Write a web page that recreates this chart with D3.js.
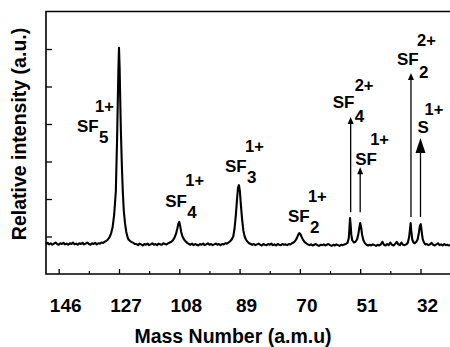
<!DOCTYPE html>
<html>
<head>
<meta charset="utf-8">
<script src="https://cdn.jsdelivr.net/npm/d3@7"></script>
<style>
  html, body { margin: 0; padding: 0; background: #fff; }
  svg { display: block; }
  text { font-family: "Liberation Sans", Arial, Helvetica, sans-serif; font-weight: bold; fill: #000; }
</style>
</head>
<body>
<div id="chart"></div>
<script>
// ---------- DATA ----------
const xTickLabels = [146, 127, 108, 89, 70, 51, 32];
const xMinorTicks = [136.5, 117.5, 98.5, 79.5, 60.5, 41.5];
const yTickValues = [1, 2, 3, 4, 5, 6];

// spectrum: [mass (a.m.u), relative intensity]
const spectrum = [
  [150,.80],[149.5,.83],[149,.79],[148.5,.82],[148,.78],[147.5,.81],[147,.84],[146.5,.80],[146,.78],[145.5,.82],
  [145,.80],[144.5,.83],[144,.79],[143.5,.81],[143,.78],[142.5,.82],[142,.80],[141.5,.84],[141,.79],[140.5,.81],
  [140,.78],[139.5,.82],[139,.80],[138.5,.83],[138,.79],[137.5,.81],[137,.84],[136.5,.80],[136,.78],[135.5,.82],
  [135,.80],[134.5,.83],[134,.79],[133.5,.82],[133,.81],[132.5,.84],[132,.83],[131.5,.86],[131,.88],[130.5,.92],
  [130,.98],[129.5,1.08],[129,1.25],[128.5,1.6],[128,2.2],[127.8,2.9],[127.6,3.6],[127.4,4.5],[127.2,5.4],[127,6.03],
  [126.8,5.5],[126.6,4.6],[126.4,3.8],[126.1,2.9],[125.8,2.2],[125.5,1.7],[125.1,1.35],[124.7,1.12],[124.3,.98],[124,.92],
  [123.5,.88],[123,.85],[122.5,.83],[122,.80],[121.5,.80],[121,.77],[120.5,.81],[120,.79],[119.5,.76],[119,.80],
  [118.5,.78],[118,.81],[117.5,.77],[117,.79],[116.5,.82],[116,.78],[115.5,.80],[115,.77],[114.5,.81],[114,.79],
  [113.5,.78],[113,.82],[112.5,.80],[112,.79],[111.5,.82],[111,.84],[110.5,.86],[110,.90],[109.5,.97],[109,1.08],
  [108.6,1.22],[108.3,1.34],[108,1.39],[107.7,1.27],[107.4,1.12],[107,1.0],[106.5,.92],[106,.87],[105.5,.83],[105,.80],
  [104.5,.78],[104,.81],[103.5,.77],[103,.80],[102.5,.78],[102,.76],[101.5,.80],[101,.78],[100.5,.81],[100,.77],
  [99.5,.79],[99,.82],[98.5,.78],[98,.80],[97.5,.77],[97,.79],[96.5,.81],[96,.78],[95.5,.80],[95,.77],
  [94.5,.80],[94,.79],[93.5,.82],[93,.81],[92.5,.84],[92,.87],[91.5,.92],[91,1.0],[90.6,1.2],[90.2,1.55],
  [89.8,2.0],[89.5,2.3],[89.2,2.37],[88.9,2.2],[88.6,1.85],[88.2,1.45],[87.8,1.15],[87.4,1.0],[87,.92],[86.5,.86],
  [86,.82],[85.5,.80],[85,.78],[84.5,.80],[84,.77],[83.5,.79],[83,.81],[82.5,.78],[82,.76],[81.5,.80],
  [81,.78],[80.5,.77],[80,.80],[79.5,.78],[79,.81],[78.5,.77],[78,.79],[77.5,.76],[77,.80],[76.5,.78],
  [76,.77],[75.5,.80],[75,.78],[74.5,.79],[74,.77],[73.5,.80],[73,.79],[72.5,.82],[72,.84],[71.5,.88],
  [71,.95],[70.6,1.03],[70.2,1.09],[69.8,1.06],[69.4,.98],[69,.91],[68.5,.85],[68,.82],[67.5,.79],[67,.77],
  [66.5,.79],[66,.76],[65.5,.78],[65,.80],[64.5,.77],[64,.75],[63.5,.78],[63,.77],[62.5,.79],[62,.76],
  [61.5,.78],[61,.80],[60.5,.77],[60,.75],[59.5,.78],[59,.76],[58.5,.79],[58,.77],[57.5,.75],[57,.78],
  [56.5,.77],[56,.79],[55.5,.80],[55,.83],[54.6,.95],[54.4,1.2],[54.2,1.49],[54.0,1.3],[53.8,1.05],[53.5,.90],
  [53,.84],[52.5,.86],[52,.92],[51.6,1.05],[51.3,1.22],[51.0,1.36],[50.7,1.25],[50.4,1.05],[50,.90],[49.5,.82],
  [49,.78],[48.5,.76],[48,.78],[47.5,.76],[47,.79],[46.5,.77],[46,.75],[45.5,.78],[45,.76],[44.5,.79],
  [44,.86],[43.5,.78],[43,.76],[42.5,.80],[42,.77],[41.5,.84],[41,.78],[40.5,.76],[40,.80],[39.5,.86],
  [39,.79],[38.5,.77],[38,.84],[37.5,.78],[37,.77],[36.5,.79],[36,.83],[35.6,.98],[35.3,1.2],[35.1,1.36],
  [34.9,1.15],[34.6,.92],[34.2,.84],[33.8,.82],[33.3,.86],[32.9,.92],[32.5,1.1],[32.2,1.28],[31.9,1.33],[31.6,1.12],
  [31.3,.93],[30.9,.84],[30.5,.79],[30,.80],[29.5,.77],[29,.79],[28.5,.83],[28,.78],[27.5,.76],[27,.79],
  [26.5,.82],[26,.77],[25.5,.79],[25,.76],[24.5,.80],[24,.77],[23.5,.78],[23,.76],[22.7,.77]
];

// ion labels: ion text, subscript, superscript (charge), peak mass
const ionNames   = ["SF", "SF", "SF", "SF", "SF", "SF", "SF", "S"];
const ionSubs    = ["5",  "4",  "3",  "2",  "4",  "",   "2",  ""];
const ionCharges = ["1+", "1+", "1+", "1+", "2+", "1+", "2+", "1+"];
const ionMasses  = [127, 108, 89.2, 70, 54, 51, 35, 32];

// arrows: peak mass, start intensity, tip intensity
const arrowMasses = [54, 51, 35, 32];
const arrowFrom   = [1.65, 1.65, 1.52, 1.52];
const arrowTo     = [4.19, 2.85, 5.36, 3.63];

// ---------- LAYOUT ----------
const W = 450, H = 347;
const plot = { left: 46, right: 450, top: 11.5, bottom: 274 };
// label layout: [dx of main text from peak, main baseline, dx of sub, sub baseline, dx of sup, sup baseline]
const labelLayout = [
  [-42, 132, -20, 143, -24, 112],
  [-14, 207,   8, 218,   6, 186],
  [-14, 172,   8, 183,   6, 152],
  [-12, 222,  10, 233,   8, 202],
  [-18, 108,   4, 122,   4,  91],
  [ -5, 165,   0,   0,  10, 145],
  [-14,  65,   8,  78,   6,  46],
  [ -3, 133,   0,   0,   4, 115]
];
const arrowHeads = [[6, 7], [6, 7], [6, 7], [10, 15]];

const x = d3.scaleLinear().domain([150, 22.7]).range([plot.left, plot.right]);
const y = d3.scaleLinear().domain([0, 7]).range([plot.bottom, plot.top]);

const svg = d3.select("#chart").append("svg").attr("width", W).attr("height", H);

// frame: left, top, bottom
svg.append("path")
  .attr("d", `M${plot.right},${plot.top}H${plot.left}V${plot.bottom}H${plot.right}`)
  .attr("fill", "none").attr("stroke", "#000").attr("stroke-width", 1.6);

// y ticks (inward)
const yAxis = d3.axisRight(y).tickValues(yTickValues).tickSize(6).tickFormat("");
svg.append("g").attr("transform", `translate(${plot.left},0)`).call(yAxis)
  .call(g => g.select(".domain").remove())
  .call(g => g.selectAll("line").attr("stroke-width", 1.3));

// x ticks (inward), major and minor
const xMajor = d3.axisTop(x).tickValues(xTickLabels).tickSize(5).tickFormat("");
svg.append("g").attr("transform", `translate(0,${plot.bottom})`).call(xMajor)
  .call(g => g.select(".domain").remove())
  .call(g => g.selectAll("line").attr("stroke-width", 1.3));
const xMinor = d3.axisTop(x).tickValues(xMinorTicks).tickSize(3).tickFormat("");
svg.append("g").attr("transform", `translate(0,${plot.bottom})`).call(xMinor)
  .call(g => g.select(".domain").remove())
  .call(g => g.selectAll("line").attr("stroke-width", 1.2));

// x tick labels
svg.append("g").selectAll("text").data(xTickLabels).join("text")
  .attr("x", d => x(d) + 7).attr("y", 312)
  .attr("text-anchor", "middle").attr("font-size", 19)
  .text(d => d);

// axis titles
svg.append("text").attr("x", 233).attr("y", 343).attr("text-anchor", "middle")
  .attr("font-size", 19.5).text("Mass Number (a.m.u)");
svg.append("text").attr("transform", "translate(26,134) rotate(-90)")
  .attr("text-anchor", "middle").attr("font-size", 19.5).text("Relative intensity (a.u.)");

// spectrum line
const line = d3.line().x(d => x(d[0])).y(d => y(d[1]));
svg.append("path").datum(spectrum)
  .attr("d", line).attr("fill", "none").attr("stroke", "#000")
  .attr("stroke-width", 2.1).attr("stroke-linejoin", "round");

// arrows
arrowMasses.forEach((m, i) => {
  const ax = x(m), y0 = y(arrowFrom[i]), y1 = y(arrowTo[i]);
  const [hw, hh] = arrowHeads[i];
  svg.append("line").attr("x1", ax).attr("x2", ax).attr("y1", y0).attr("y2", y1 + hh - 1)
    .attr("stroke", "#000").attr("stroke-width", 1.3);
  svg.append("path")
    .attr("d", `M${ax},${y1}L${ax - hw / 2},${y1 + hh}L${ax + hw / 2},${y1 + hh}Z`)
    .attr("fill", "#000");
});

// ion labels: main text, subscript and charge
ionNames.forEach((name, i) => {
  const px = x(ionMasses[i]);
  const L = labelLayout[i];
  svg.append("text").attr("x", px + L[0]).attr("y", L[1]).attr("font-size", 17).text(name);
  if (ionSubs[i]) {
    svg.append("text").attr("x", px + L[2]).attr("y", L[3]).attr("font-size", 17).text(ionSubs[i]);
  }
  svg.append("text").attr("x", px + L[4]).attr("y", L[5]).attr("font-size", 16.5).text(ionCharges[i]);
});
</script>
</body>
</html>
